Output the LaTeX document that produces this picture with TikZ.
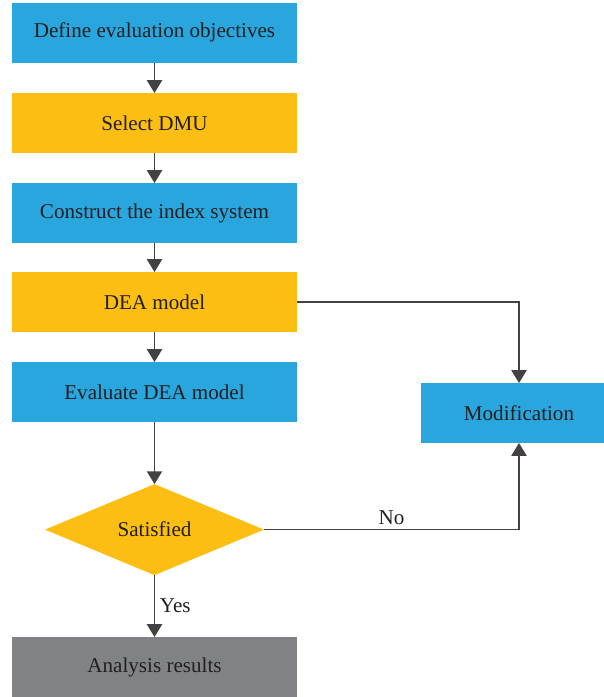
\documentclass[tikz,border=0pt]{standalone}
\usepackage{fontspec}
\setmainfont{Liberation Serif}
\usetikzlibrary{arrows.meta,positioning,shapes.geometric}
\definecolor{boxblue}{HTML}{29A6DE}
\definecolor{boxyellow}{HTML}{FCBE13}
\definecolor{boxgray}{HTML}{808285}
\definecolor{inkdark}{HTML}{231F20}
\begin{document}
\begin{tikzpicture}[font=\fontsize{15}{18}\selectfont, text=inkdark,
  box/.style={minimum width=7.125cm, minimum height=1.5cm, inner sep=0pt, outer sep=0pt},
  flow/.style={draw=inkdark!85, line width=1pt, -{Triangle[length=0.32cm,width=0.38cm]}}]
\useasboundingbox (0,0) rectangle (15.1,-17.425);
\node[box, fill=boxblue] (obj) at (3.8625,-0.8125) {Define evaluation objectives};
\node[box, fill=boxyellow] (dmu) at (3.8625,-3.075) {Select DMU};
\node[box, fill=boxblue] (idx) at (3.8625,-5.325) {Construct the index system};
\node[box, fill=boxyellow] (dea) at (3.8625,-7.55) {DEA model};
\node[box, fill=boxblue] (eval) at (3.8625,-9.8) {Evaluate DEA model};
\node[diamond, fill=boxyellow, aspect=2.4, inner sep=0pt, outer sep=0pt, minimum width=5.475cm, minimum height=2.275cm] (sat) at (3.8625,-13.24) {Satisfied};
\node[box, fill=boxgray] (res) at (3.8625,-16.675) {Analysis results};
\node[box, fill=boxblue, minimum width=4.9cm] (mod) at (12.975,-10.325) {Modification};
\foreach \a/\b in {obj/dmu, idx/dea, dmu/idx, dea/eval, eval/sat} \draw[flow] (\a) -- (\b);
\draw[flow] (sat) -- node[right] {Yes} (res);
\draw[flow] (dea) -| (mod);
\draw[flow] (sat) -| node[pos=0.25, above] {No} (mod);
\end{tikzpicture}
\end{document}
